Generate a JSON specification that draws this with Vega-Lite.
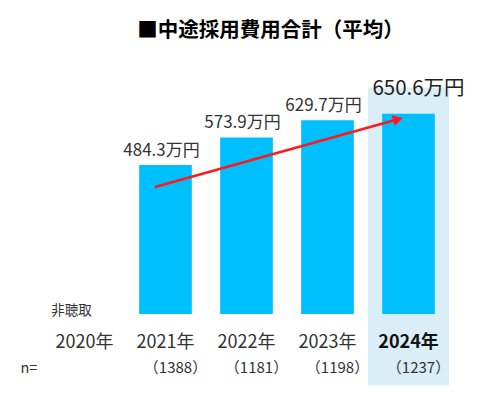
{
  "$schema": "https://vega.github.io/schema/vega-lite/v6.json",
  "width": 493,
  "height": 345,
  "autosize": {"type": "none"},
  "padding": {"top": 50, "left": 0, "right": 0, "bottom": 0},
  "background": "white",
  "config": {"view": {"stroke": null}, "font": "Noto Sans CJK JP"},
  "title": {
    "text": "■中途採用費用合計（平均）",
    "fontSize": 20.5,
    "fontWeight": "bold",
    "font": "Noto Sans CJK JP",
    "color": "#000000",
    "dx": 24,
    "offset": 9
  },
  "datasets": {
    "survey": [
      {"year": "2020", "value": null, "n": null, "label": null, "note": "非聴取"},
      {"year": "2021", "value": 484.3, "n": 1388, "label": "484.3万円", "note": null},
      {"year": "2022", "value": 573.9, "n": 1181, "label": "573.9万円", "note": null},
      {"year": "2023", "value": 629.7, "n": 1198, "label": "629.7万円", "note": null},
      {"year": "2024", "value": 650.6, "n": 1237, "label": "650.6万円", "note": null}
    ],
    "arrow": [
      {"year": "2021", "v": 413},
      {"year": "2024", "v": 633}
    ]
  },
  "data": {"name": "survey"},
  "layer": [
    {
      "transform": [{"filter": "datum.year == '2024'"}],
      "mark": {"type": "bar", "color": "#d9eef6", "width": {"band": 1.54}},
      "encoding": {
        "x": {
          "field": "year",
          "type": "nominal",
          "scale": {"domain": ["2020", "2021", "2022", "2023", "2024"], "paddingInner": 0.35, "paddingOuter": 0.718},
          "axis": {
            "title": "n=",
            "domain": false,
            "ticks": false,
            "zindex": 1,
            "labelExpr": "datum.label + '年'",
            "labelAngle": 0,
            "labelFontSize": 18,
            "labelColor": {"condition": {"test": "datum.value == '2024'", "value": "#111111"}, "value": "#333333"},
            "labelFontWeight": {"condition": {"test": "datum.value == '2024'", "value": "bold"}, "value": "normal"},
            "offset": -62,
            "labelPadding": 14,
            "labelBaseline": "alphabetic",
            "titleX": 20,
            "titleY": 39,
            "titleAlign": "left",
            "titleAngle": 0,
            "titleFontSize": 14.5,
            "titleFontWeight": "normal",
            "titleColor": "#333333",
            "titleBaseline": "alphabetic"
          }
        },
        "y": {
          "datum": 735,
          "type": "quantitative",
          "scale": {"domain": [-263, 858], "nice": false, "zero": false},
          "axis": null
        },
        "y2": {"datum": -231}
      }
    },
    {
      "transform": [{"filter": "datum.value != null"}],
      "mark": {"type": "bar", "color": "#00bfff"},
      "encoding": {
        "x": {"field": "year", "type": "nominal"},
        "y": {"field": "value", "type": "quantitative"}
      }
    },
    {
      "transform": [{"filter": "datum.value != null && datum.year != '2024'"}],
      "mark": {"type": "text", "fontSize": 17, "color": "#333333", "dx": -4, "dy": -9, "baseline": "alphabetic"},
      "encoding": {
        "x": {"field": "year", "type": "nominal"},
        "y": {"field": "value", "type": "quantitative"},
        "text": {"field": "label"}
      }
    },
    {
      "transform": [{"filter": "datum.year == '2024'"}],
      "mark": {"type": "text", "fontSize": 20.5, "color": "#222222", "dx": 10, "dy": -19, "baseline": "alphabetic"},
      "encoding": {
        "x": {"field": "year", "type": "nominal"},
        "y": {"field": "value", "type": "quantitative"},
        "text": {"field": "label"}
      }
    },
    {
      "transform": [
        {"filter": "datum.n != null"},
        {"calculate": "'（' + datum.n + '）'", "as": "nlabel"}
      ],
      "mark": {"type": "text", "fontSize": 15, "color": "#333333", "dx": 10, "dy": 59, "baseline": "alphabetic"},
      "encoding": {
        "x": {"field": "year", "type": "nominal"},
        "y": {"datum": 0, "type": "quantitative"},
        "text": {"field": "nlabel"}
      }
    },
    {
      "transform": [{"filter": "datum.note != null"}],
      "mark": {"type": "text", "fontSize": 13.5, "color": "#333333", "dx": -13, "dy": 1, "baseline": "alphabetic"},
      "encoding": {
        "x": {"field": "year", "type": "nominal"},
        "y": {"datum": 0, "type": "quantitative"},
        "text": {"field": "note"}
      }
    },
    {
      "data": {"name": "arrow"},
      "mark": {"type": "line", "color": "#ff1a1a", "strokeWidth": 2.5},
      "encoding": {
        "x": {"field": "year", "type": "nominal", "bandPosition": 0.3},
        "y": {"field": "v", "type": "quantitative"}
      }
    },
    {
      "data": {"name": "arrow"},
      "transform": [{"filter": "datum.year == '2024'"}],
      "mark": {"type": "point", "shape": "triangle-up", "filled": true, "color": "#ff1a1a", "opacity": 1, "size": 130, "angle": 74},
      "encoding": {
        "x": {"field": "year", "type": "nominal", "bandPosition": 0.3},
        "y": {"field": "v", "type": "quantitative"}
      }
    }
  ]
}
